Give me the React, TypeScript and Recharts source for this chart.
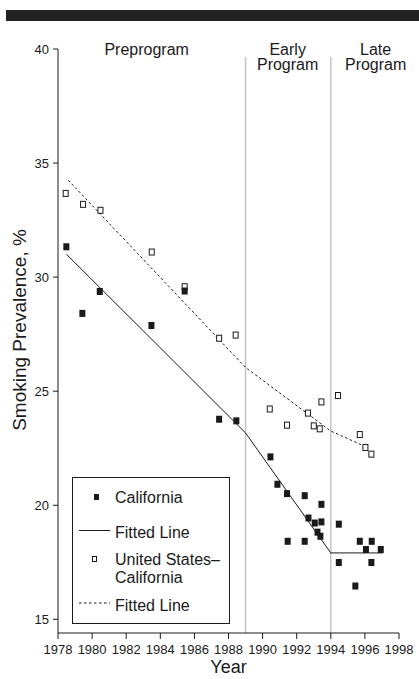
import { ComposedChart, Scatter, XAxis, YAxis, ReferenceLine, Legend } from "recharts";

const FONT = '"Liberation Sans", Arial, Helvetica, sans-serif';
const INK = "#1a1a1a";
const GRID = "#c4c4c4";

// California survey estimates (year, smoking prevalence %)
const caYears = [
  1978.49, 1979.43, 1980.45, 1983.48, 1985.43, 1987.45, 1988.46, 1990.46, 1990.87,
  1991.43, 1991.47, 1992.47, 1992.47, 1992.69, 1993.06, 1993.22, 1993.39, 1993.45,
  1993.45, 1994.47, 1994.47, 1995.44, 1995.7, 1996.06, 1996.38, 1996.4, 1996.93,
];
const caPrev = [
  31.33, 28.41, 29.37, 27.88, 29.39, 23.77, 23.7, 22.12, 20.92,
  20.51, 18.42, 20.42, 18.42, 19.44, 19.22, 18.82, 18.64, 20.04,
  19.27, 19.17, 17.49, 16.46, 18.42, 18.06, 17.49, 18.42, 18.06,
];

// United States minus California
const usYears = [
  1978.45, 1979.47, 1980.49, 1983.5, 1985.43, 1987.45, 1988.42, 1990.42, 1991.43,
  1992.66, 1993.0, 1993.35, 1993.45, 1994.42, 1995.7, 1996.03, 1996.38,
];
const usPrev = [
  33.67, 33.19, 32.93, 31.1, 29.58, 27.32, 27.46, 24.22, 23.51,
  24.04, 23.48, 23.35, 24.53, 24.81, 23.1, 22.53, 22.24,
];

// fitted segmented trends
const caFitYears = [1978.5, 1989, 1994, 1997.05];
const caFitPrev = [31.0, 23.17, 17.91, 17.91];
const usFitYears = [1978.6, 1989, 1994, 1996.1];
const usFitPrev = [34.25, 26.04, 23.25, 22.55];

const periodBreaks = [1989, 1994];
const periodNames = [["Preprogram"], ["Early", "Program"], ["Late", "Program"]];
const periodLabelYears = [1983.2, 1991.47, 1996.63];

const xTicks = [1978, 1980, 1982, 1984, 1986, 1988, 1990, 1992, 1994, 1996, 1998];
const yTicks = [15, 20, 25, 30, 35, 40];

const toPoints = (xs: number[], ys: number[]) => xs.map((year, i) => ({ year, v: ys[i] }));
const caData = toPoints(caYears, caPrev);
const usData = toPoints(usYears, usPrev);
const caFit = toPoints(caFitYears, caFitPrev);
const usFit = toPoints(usFitYears, usFitPrev);
const periodData = periodNames.map((lines, i) => ({ year: periodLabelYears[i], v: 40, lines }));

const FilledSquare = (p: any) => (
  <rect x={p.cx - 3} y={p.cy - 3.5} width={6} height={7} fill={INK} />
);
const OpenSquare = (p: any) => (
  <rect x={p.cx - 2.5} y={p.cy - 3} width={5} height={6} fill="#fff" stroke={INK} strokeWidth={1} />
);
const NoDot = () => <g />;

const PeriodLabel = (p: any) => (
  <text x={p.cx} y={p.cy + 5.8} textAnchor="middle" fontSize={16} fontFamily={FONT} fill={INK}>
    {p.payload.lines.map((t: string, i: number) => (
      <tspan key={t} x={p.cx} dy={i === 0 ? 0 : 15}>
        {t}
      </tspan>
    ))}
  </text>
);

const LegendBox = () => (
  <svg width={158} height={147} style={{ display: "block" }}>
    <rect x={0.5} y={0.5} width={157} height={146} fill="#fff" stroke={INK} />
    <g fontSize={16} fontFamily={FONT} fill={INK}>
      <rect x={22} y={17} width={5} height={6} fill={INK} />
      <text x={43} y={25.5}>California</text>
      <line x1={7} x2={38} y1={53.5} y2={53.5} stroke={INK} />
      <text x={43} y={61}>Fitted Line</text>
      <rect x={20.5} y={79.5} width={4} height={5} fill="#fff" stroke={INK} />
      <text x={43} y={88}>United States–</text>
      <text x={43} y={106}>California</text>
      <line x1={7} x2={38} y1={126} y2={126} stroke={INK} strokeDasharray="2.5 2.5" />
      <text x={43} y={134}>Fitted Line</text>
    </g>
  </svg>
);

const YLabel = () => (
  <text
    transform="translate(25.5,330) rotate(-90)"
    textAnchor="middle"
    fontSize={19}
    fontFamily={FONT}
    fill={INK}
  >
    Smoking Prevalence, %
  </text>
);

export default function App() {
  return (
    <div style={{ position: "absolute", left: 0, top: 0, width: 419, height: 679, background: "#fff" }}>
      <div style={{ position: "absolute", left: 6, top: 10, width: 413, height: 11, background: "#222" }} />
      <ComposedChart width={419} height={679} margin={{ top: 49, right: 20, bottom: 0, left: 0 }}>
        <XAxis
          type="number"
          dataKey="year"
          domain={[1978, 1998]}
          ticks={xTicks}
          height={46}
          tickSize={6}
          tickMargin={6}
          stroke={INK}
          tick={{ fontSize: 13, fill: INK, fontFamily: FONT }}
          label={{ value: "Year", position: "insideBottom", offset: 6, fontSize: 18, fill: INK, fontFamily: FONT }}
        />
        <YAxis
          type="number"
          dataKey="v"
          domain={[14.4, 40]}
          ticks={yTicks}
          width={58}
          tickSize={5}
          tickMargin={4}
          stroke={INK}
          tick={{ fontSize: 13, fill: INK, fontFamily: FONT }}
          label={{ content: () => <YLabel /> }}
        />
        {periodBreaks.map((b) => (
          <ReferenceLine
            key={b}
            segment={[
              { x: b, y: 39.65 },
              { x: b, y: 14.4 },
            ]}
            stroke={GRID}
            strokeWidth={1.5}
          />
        ))}
        <Scatter data={periodData} shape={PeriodLabel} isAnimationActive={false} />
        <Scatter
          data={usFit}
          shape={NoDot}
          line={{ stroke: INK, strokeWidth: 1, strokeDasharray: "2.5 2.5" }}
          isAnimationActive={false}
        />
        <Scatter data={caFit} shape={NoDot} line={{ stroke: INK, strokeWidth: 1 }} isAnimationActive={false} />
        <Scatter data={usData} shape={OpenSquare} isAnimationActive={false} />
        <Scatter data={caData} shape={FilledSquare} isAnimationActive={false} />
        <Legend
          layout="vertical"
          align="center"
          verticalAlign="middle"
          wrapperStyle={{ left: 72, top: 477, width: 158, height: 147 }}
          content={() => <LegendBox />}
        />
      </ComposedChart>
    </div>
  );
}
